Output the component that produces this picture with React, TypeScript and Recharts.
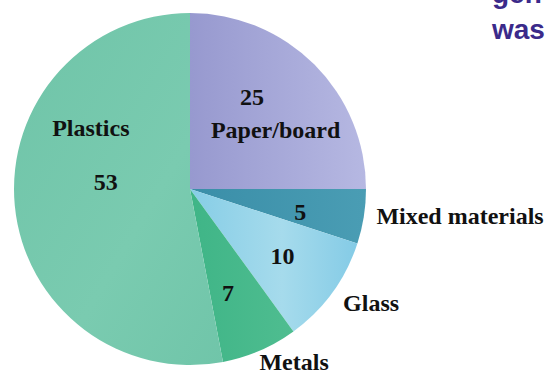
import React from "react";
import { PieChart, Pie, Cell } from "recharts";

const categories = ["Paper/board", "Mixed materials", "Glass", "Metals", "Plastics"];
const shares = [25, 5, 10, 7, 53];
const sliceColors = ["url(#gPaper)", "url(#gMixed)", "url(#gGlass)", "url(#gMetals)", "url(#gPlastics)"];
const titleLines = ["gen", "was"];

const data = categories.map((name, i) => ({ name, value: shares[i] }));

// label layout: radius as fraction of outer radius, angle offset (deg) from slice mid-angle
const labelLayout: Record<string, { vr: number; va: number; nr: number; na: number; anchor: "start" | "middle" }> = {
  "Paper/board": { vr: 0.63, va: 11, nr: 0.59, na: -10.5, anchor: "middle" },
  "Mixed materials": { vr: 0.64, va: -3, nr: 1.07, na: 0.8, anchor: "start" },
  Glass: { vr: 0.65, va: 0, nr: 1.085, na: -0.7, anchor: "start" },
  Metals: { vr: 0.63, va: -3.4, nr: 1.145, na: 7.7, anchor: "middle" },
  Plastics: { vr: 0.48, va: -10.4, nr: 0.66, na: -36.8, anchor: "middle" },
};

const CX = 190;
const CY = 189;
const R = 176;
const RAD = Math.PI / 180;

const renderLabel = (props: any) => {
  const { midAngle, name, value } = props;
  const cx = props.cx ?? CX;
  const cy = props.cy ?? CY;
  const r = props.outerRadius ?? R;
  const l = labelLayout[name];
  if (!l) return null;
  const va = (midAngle + l.va) * RAD;
  const na = (midAngle + l.na) * RAD;
  const vx = cx + Math.cos(va) * r * l.vr;
  const vy = cy - Math.sin(va) * r * l.vr;
  const nx = cx + Math.cos(na) * r * l.nr;
  const ny = cy - Math.sin(na) * r * l.nr;
  const style = {
    fontFamily: "'Liberation Serif', 'Times New Roman', serif",
    fontWeight: 700,
    fontSize: 24,
    fill: "#111",
  } as const;
  return (
    <g>
      <text x={vx} y={vy} textAnchor="middle" dominantBaseline="central" style={style}>
        {value}
      </text>
      <text x={nx} y={ny} textAnchor={l.anchor} dominantBaseline="central" style={style}>
        {name}
      </text>
    </g>
  );
};

const titleStyle = {
  fontFamily: "'Liberation Sans', Arial, sans-serif",
  fontWeight: 700,
  fontSize: 28,
  fill: "#3b2a8a",
} as const;

export default function App() {
  return (
    <div style={{ position: "absolute", left: 0, top: 0, width: 546, height: 375, background: "#fff", overflow: "hidden" }}>
      <PieChart width={546} height={375} margin={{ top: 0, right: 0, bottom: 0, left: 0 }}>
        <defs>
          <linearGradient id="gPaper" x1="0" y1="0" x2="1" y2="0">
            <stop offset="0%" stopColor="#9799cf" />
            <stop offset="100%" stopColor="#b6b8e2" />
          </linearGradient>
          <linearGradient id="gMixed" x1="0" y1="0" x2="1" y2="0">
            <stop offset="0%" stopColor="#3a8ea8" />
            <stop offset="100%" stopColor="#4a9db4" />
          </linearGradient>
          <linearGradient id="gGlass" x1="0" y1="0" x2="1" y2="0">
            <stop offset="0%" stopColor="#86cde6" />
            <stop offset="55%" stopColor="#a6dbec" />
            <stop offset="100%" stopColor="#84cbe6" />
          </linearGradient>
          <linearGradient id="gMetals" x1="0" y1="0" x2="1" y2="0">
            <stop offset="0%" stopColor="#3fb587" />
            <stop offset="100%" stopColor="#4fbd90" />
          </linearGradient>
          <linearGradient id="gPlastics" x1="0" y1="0" x2="1" y2="1">
            <stop offset="0%" stopColor="#6fc4a8" />
            <stop offset="60%" stopColor="#7acbb0" />
            <stop offset="100%" stopColor="#70c5a9" />
          </linearGradient>
        </defs>
        <Pie
          data={data}
          dataKey="value"
          nameKey="name"
          cx={CX}
          cy={CY}
          outerRadius={R}
          startAngle={90}
          endAngle={-270}
          stroke="none"
          label={renderLabel}
          labelLine={false}
          isAnimationActive={false}
        >
          {data.map((d, i) => (
            <Cell key={d.name} fill={sliceColors[i]} />
          ))}
        </Pie>
        <text x={492} y={3} style={titleStyle}>
          {titleLines[0]}
        </text>
        <text x={492} y={39} style={titleStyle}>
          {titleLines[1]}
        </text>
      </PieChart>
    </div>
  );
}
